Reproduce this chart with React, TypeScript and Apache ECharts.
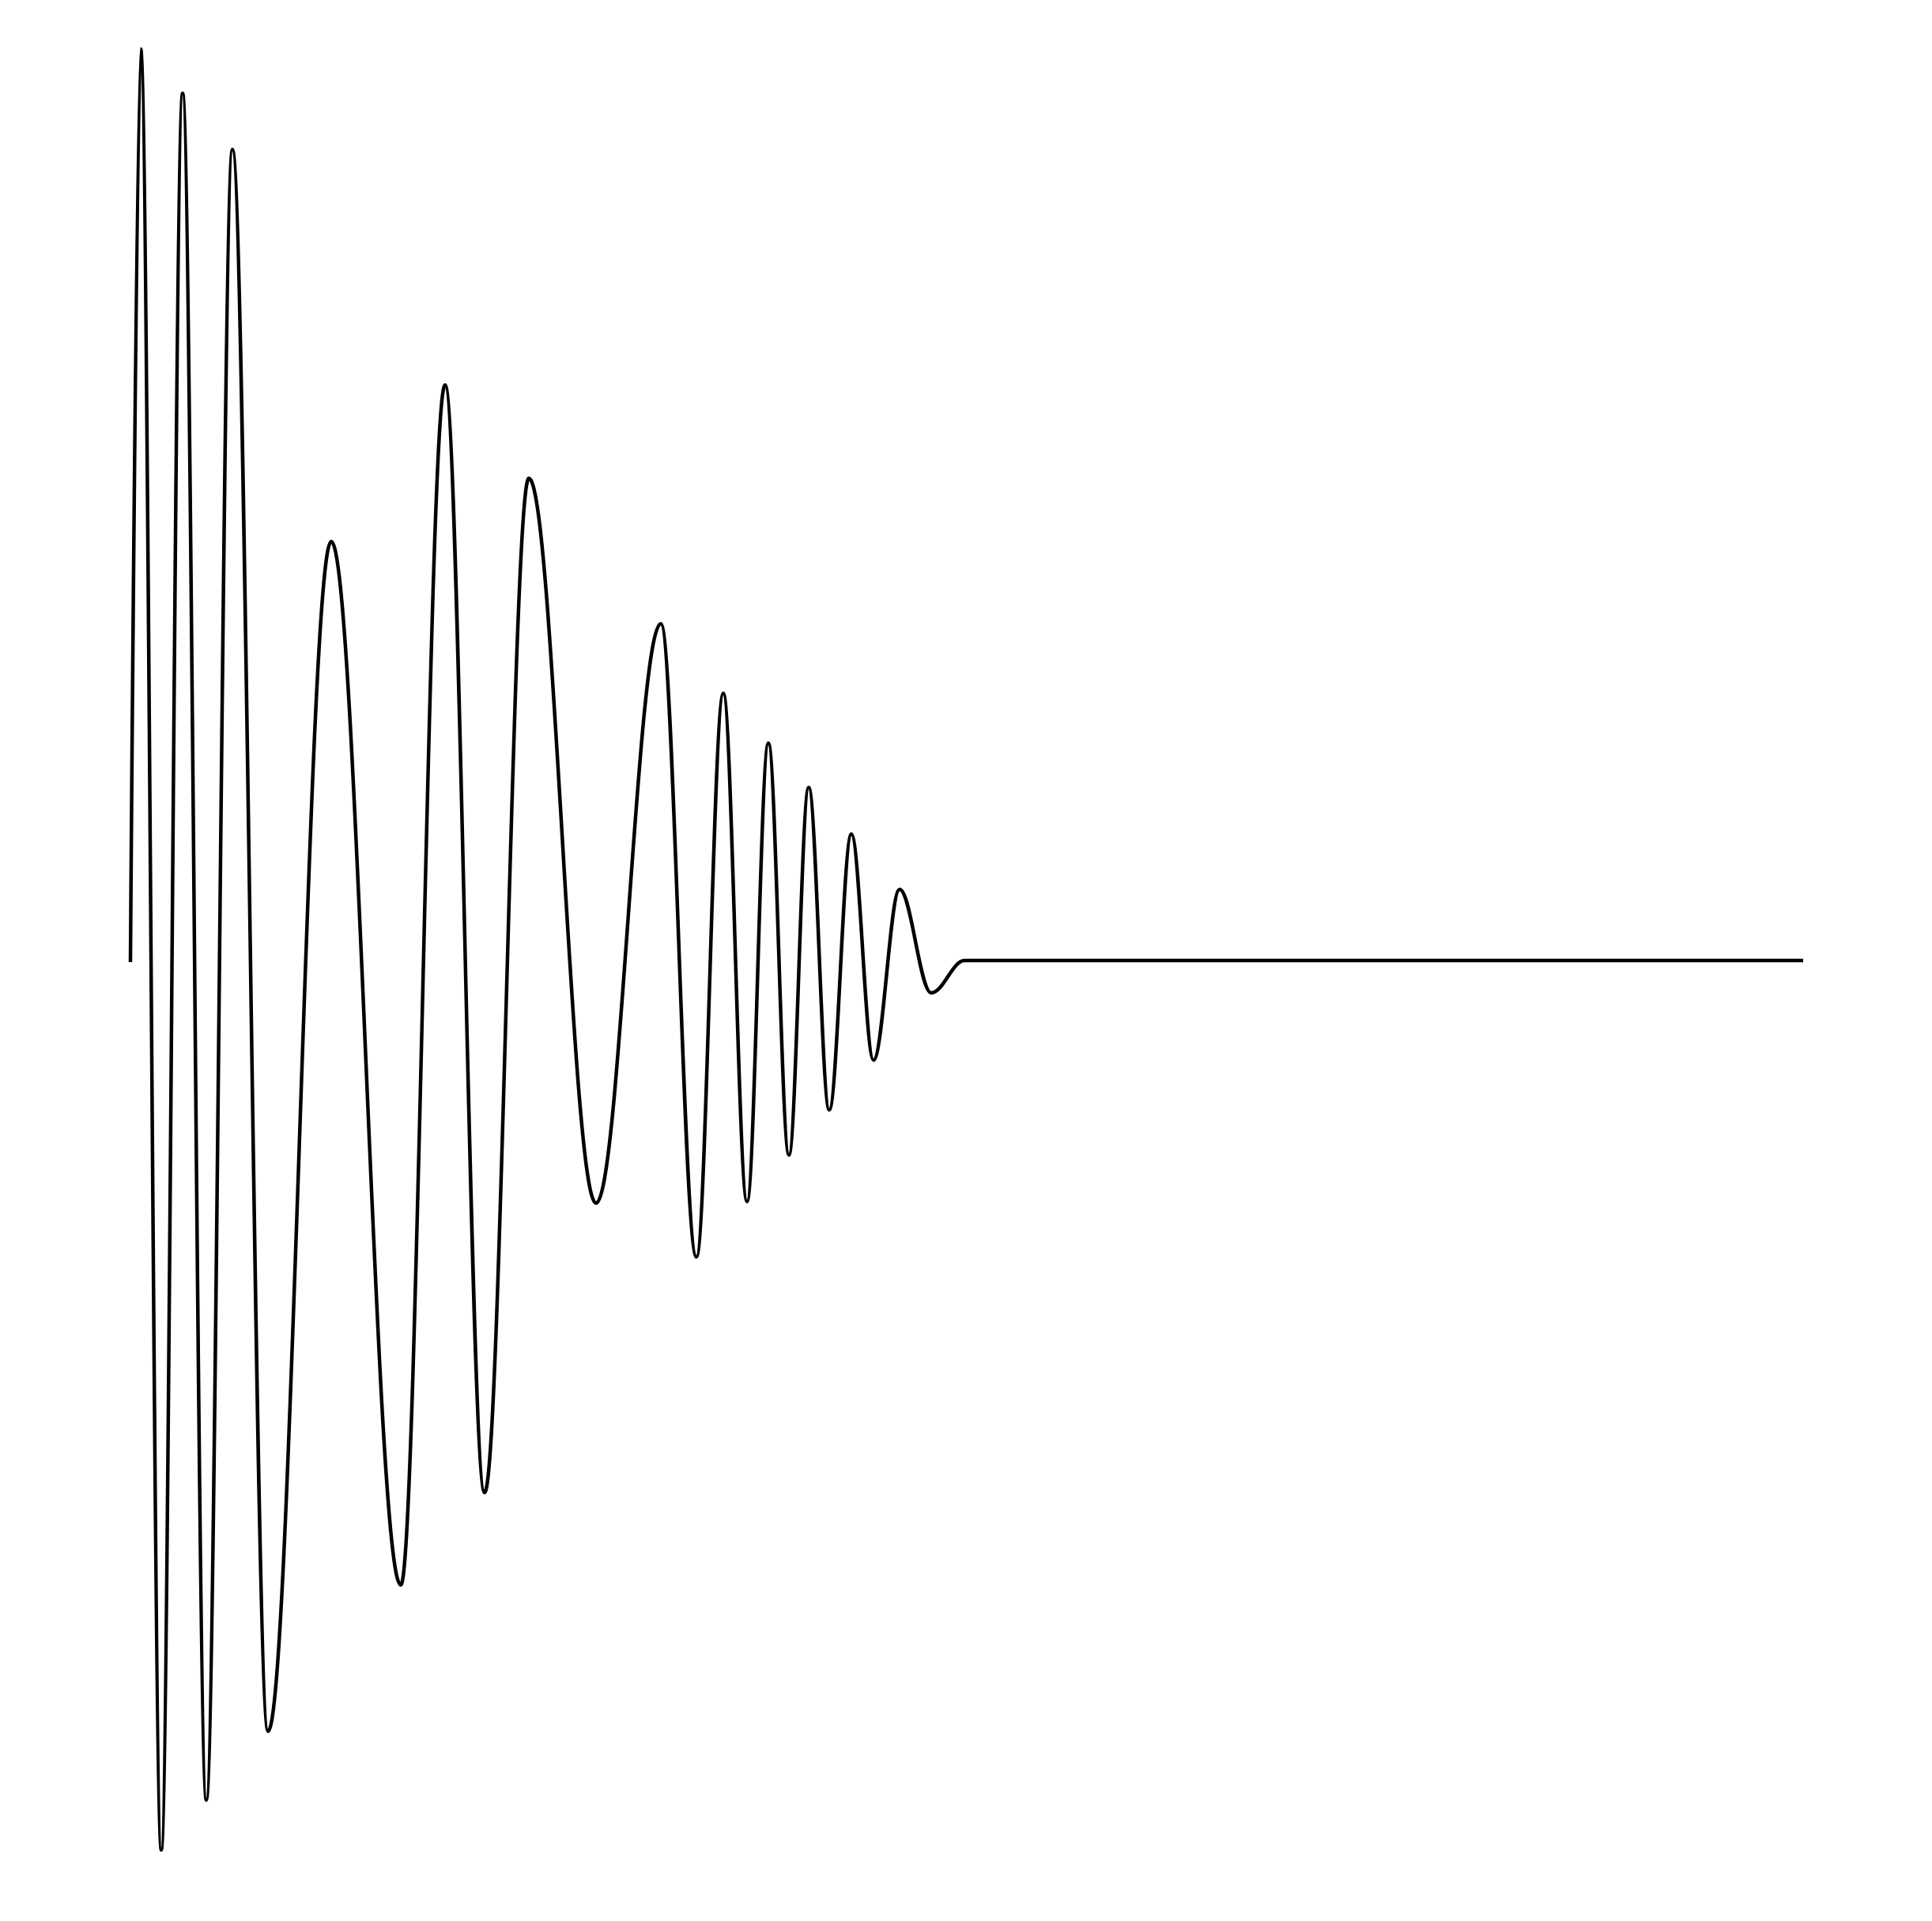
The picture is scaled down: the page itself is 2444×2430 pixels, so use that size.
import { useEffect, useRef } from "react";
import * as echarts from "echarts";

// turning points of the trace
// time in samples, amplitude in counts (0 = rest line)
const SAMPLES = [
  0, 13, 39, 66, 96, 129, 174, 254, 342, 398, 448, 504, 589,
  671, 716, 750, 780, 807, 833, 858, 884, 912, 940, 973, 1013, 1055, 2116,
];
const AMPLITUDES = [
  -2, 1153, -1125, 1097, -1062, 1026, -975, 530, -790, 728, -673, 610, -307,
  426, -375, 338, -305, 275, -246, 219, -189, 160, -126, 90, -41, 0, 0,
];

const X_MAX = 2116;
const Y_RANGE = 1215;

export default function App() {
  const chartRef = useRef<HTMLDivElement>(null);

  useEffect(() => {
    if (!chartRef.current) return;
    const chart = echarts.init(chartRef.current, undefined, { renderer: "svg" });

    chart.setOption({
      animation: false,
      backgroundColor: "#fff",
      grid: { left: 165, right: 163, top: 0, bottom: 0, containLabel: false },
      xAxis: { type: "value", min: 0, max: X_MAX, show: false },
      yAxis: { type: "value", min: -Y_RANGE, max: Y_RANGE, show: false },
      series: [
        {
          type: "line",
          data: SAMPLES.map((t, i) => [t, AMPLITUDES[i]]),
          showSymbol: false,
          smooth: 0.36,
          smoothMonotone: "x",
          clip: false,
          lineStyle: { color: "#000", width: 4.5 },
        },
      ],
    });

    return () => chart.dispose();
  }, []);

  return (
    <div
      ref={chartRef}
      style={{ position: "fixed", left: 0, top: 0, width: "2444px", height: "2430px" }}
    />
  );
}
